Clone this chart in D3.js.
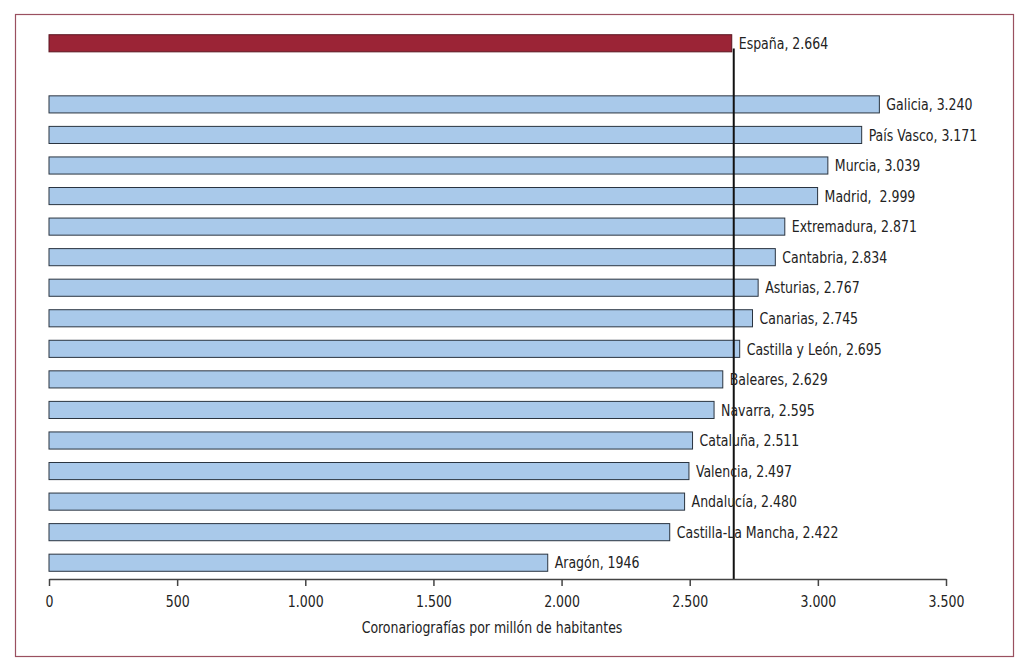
<!DOCTYPE html>
<html>
<head>
<meta charset="utf-8">
<script src="https://d3js.org/d3.v7.min.js"></script>
<style>
  body { margin: 0; background: #fff; }
  text { font-family: "DejaVu Sans Condensed", "Liberation Sans Narrow", sans-serif; fill: #222; }
</style>
</head>
<body>
<script>
// regions, in drawing order (a blank slot separates España from the rest)
var regions = ["España", "", "Galicia", "País Vasco", "Murcia", "Madrid", "Extremadura", "Cantabria",
  "Asturias", "Canarias", "Castilla y León", "Baleares", "Navarra", "Cataluña", "Valencia",
  "Andalucía", "Castilla-La Mancha", "Aragón"];
var values = [2664, null, 3240, 3171, 3039, 2999, 2871, 2834, 2767, 2745, 2695, 2629, 2595, 2511, 2497, 2480, 2422, 1946];
var labels = ["España, 2.664", "", "Galicia, 3.240", "País Vasco, 3.171", "Murcia, 3.039", "Madrid,  2.999",
  "Extremadura, 2.871", "Cantabria, 2.834", "Asturias, 2.767", "Canarias, 2.745", "Castilla y León, 2.695",
  "Baleares, 2.629", "Navarra, 2.595", "Cataluña, 2.511", "Valencia, 2.497", "Andalucía, 2.480",
  "Castilla-La Mancha, 2.422", "Aragón, 1946"];
var tickValues = [0, 500, 1000, 1500, 2000, 2500, 3000, 3500];
var tickLabels = ["0", "500", "1.000", "1.500", "2.000", "2.500", "3.000", "3.500"];
var axisTitle = "Coronariografías por millón de habitantes";

var width = 1024, height = 661;
var squeeze = 0.87; // the original face is narrower than DejaVu Condensed
var fontSize = "16px";

var svg = d3.select("body").append("svg")
  .attr("width", width)
  .attr("height", height);

// outer frame
svg.append("rect")
  .attr("x", 15.5).attr("y", 14.5)
  .attr("width", 998).attr("height", 642)
  .attr("fill", "none")
  .attr("stroke", "#9a5060")
  .attr("stroke-width", 1.2);

var x = d3.scaleLinear().domain([0, 3500]).range([49, 946]);
var y = d3.scaleBand().domain(regions).range([28, 578]).paddingInner(0.44).paddingOuter(0.22);

var data = regions.map(function (r, i) { return { name: r, value: values[i], label: labels[i] }; })
  .filter(function (d) { return d.value != null; });

// bars
svg.append("g").selectAll("rect")
  .data(data)
  .enter().append("rect")
  .attr("x", x(0))
  .attr("y", function (d) { return y(d.name); })
  .attr("width", function (d) { return x(d.value) - x(0); })
  .attr("height", y.bandwidth())
  .attr("fill", function (d, i) { return i == 0 ? "#9b2436" : "#a9c9ea"; })
  .attr("stroke", function (d, i) { return i == 0 ? "#5a1520" : "#2a3440"; })
  .attr("stroke-width", 1);

// national reference line
var ref = values[0];
svg.append("line")
  .attr("x1", x(ref) + 2).attr("x2", x(ref) + 2)
  .attr("y1", y("España") + y.bandwidth() * 0.8)
  .attr("y2", 579)
  .attr("stroke", "#111")
  .attr("stroke-width", 2);

// labels
svg.append("g").selectAll("text")
  .data(data)
  .enter().append("text")
  .attr("transform", function (d) {
    return "translate(" + (x(d.value) + 7) + "," + (y(d.name) + y.bandwidth() / 2) + ") scale(" + squeeze + ",1)";
  })
  .attr("dy", "0.36em")
  .attr("font-size", fontSize)
  .style("white-space", "pre")
  .text(function (d) { return d.label; });

// x axis
var axis = d3.axisBottom(x)
  .tickValues(tickValues)
  .tickFormat(function (d, i) { return tickLabels[i]; })
  .tickSize(7)
  .tickSizeOuter(0);

var ax = svg.append("g")
  .attr("transform", "translate(0,579)")
  .call(axis);
ax.select(".domain").attr("stroke", "#444").attr("stroke-width", 1.5);
ax.selectAll(".tick line").attr("stroke", "#444").attr("stroke-width", 1.5);
ax.selectAll(".tick text")
  .attr("font-size", fontSize)
  .attr("dy", "1.1em")
  .attr("fill", "#222")
  .attr("transform", "scale(" + squeeze + ",1)")
  .style("font-family", "\"DejaVu Sans Condensed\", sans-serif");

svg.append("text")
  .attr("transform", "translate(492,633) scale(" + squeeze + ",1)")
  .attr("text-anchor", "middle")
  .attr("font-size", fontSize)
  .text(axisTitle);
</script>
</body>
</html>
